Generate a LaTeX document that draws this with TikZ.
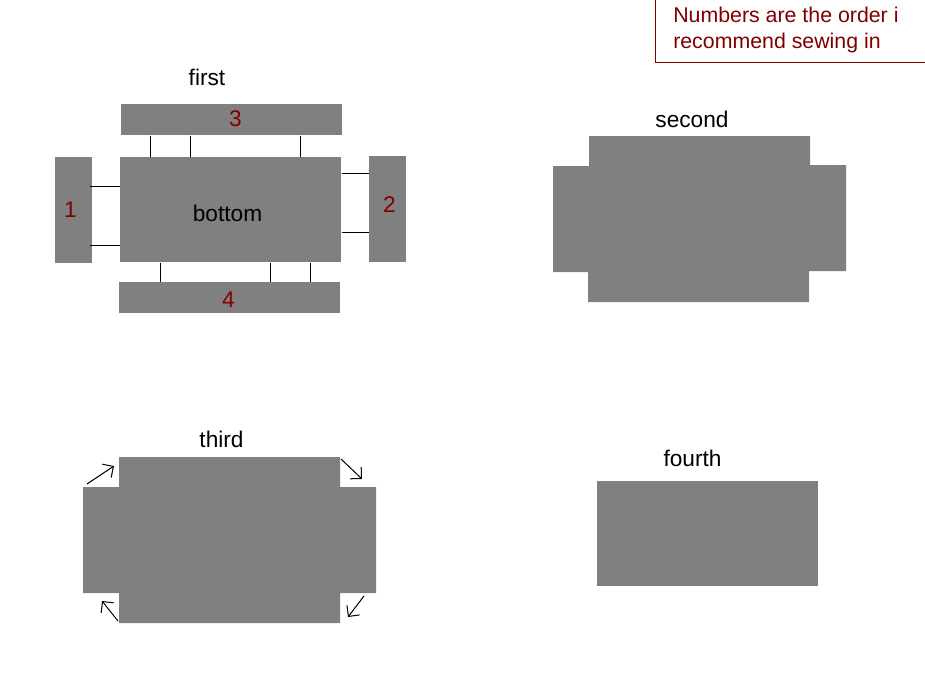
\documentclass[tikz,border=0pt]{standalone}
\usepackage{fontspec}
\setmainfont{Liberation Sans}
\usetikzlibrary{positioning,arrows.meta}
\definecolor{clothgray}{RGB}{128,128,128}
\definecolor{seamred}{RGB}{128,0,0}

\begin{document}
\begin{tikzpicture}[x=0.75pt,y=-0.75pt,
  piece/.style 2 args={rectangle,fill=clothgray,inner sep=0pt,anchor=north west,
        minimum width=#1*0.75pt,minimum height=#2*0.75pt},
  lbl/.style={anchor=base,inner sep=0pt,font=\fontsize{17}{20}\selectfont},
  num/.style={lbl,text=seamred},
  note/.style={anchor=base west,inner sep=0pt,text=seamred,font=\fontsize{16}{19.5}\selectfont},
  seam/.style={line width=0.75pt},
  turn/.style={line width=0.75pt,-{Straight Barb[length=6pt,width=12pt]}}]
\useasboundingbox (0,0) rectangle (925,682);

\draw[seamred,line width=0.75pt] (655,0) -- (655,62) -- (925,62);
\node[note] (note1) at (673,22) {Numbers are the order i};
\node[note] (note2) at (673,48) {recommend sewing in};

\node[piece={221}{105}] (bottom) at (120,157) {};
\node[piece={221}{31}] (p3) at (121,104) {};
\node[piece={221}{31}] (p4) at (119,282) {};
\node[piece={37}{106}] (p1) at (55,157) {};
\node[piece={37}{106}] (p2) at (369,156) {};
\foreach \sx in {150,190,300}
  \draw[seam] (p3.south -| \sx,0) -- (bottom.north -| \sx,0);
\foreach \sx in {160,270,310}
  \draw[seam] (bottom.south -| \sx,0) -- (p4.north -| \sx,0);
\foreach \sy in {186,245}
  \draw[seam] (p1.east |- 0,\sy) ++(-3,0) -- (bottom.west |- 0,\sy);
\foreach \sy in {173,232}
  \draw[seam] (bottom.east |- 0,\sy) -- (p2.west |- 0,\sy);
\node[lbl] (first) at (207,85) {first};
\node[lbl] (btm) at (227.5,221) {bottom};
\node[num] (n1) at (70.5,217) {1};
\node[num] (n2) at (389.5,212) {2};
\node[num] (n3) at (235.5,126) {3};
\node[num] (n4) at (228.5,307) {4};

\fill[clothgray] (589,136) -- (810,136) -- (810,165) -- (846,165) -- (846,271)
  -- (809,271) -- (809,302) -- (588,302) -- (588,272) -- (553,272)
  -- (553,166) -- (589,166) -- cycle;
\node[lbl] (second) at (692,127) {second};

\fill[clothgray] (119,457) -- (340,457) -- (340,487) -- (376,487) -- (376,593)
  -- (340,593) -- (340,623) -- (119,623) -- (119,593) -- (83,593)
  -- (83,487) -- (119,487) -- cycle;
\node[lbl] (third) at (221.5,447) {third};
\coordinate (tl0) at (87,484);  \coordinate (tl1) at (114,466);
\coordinate (tr0) at (341,459); \coordinate (tr1) at (362,479);
\coordinate (bl0) at (118,621); \coordinate (bl1) at (102,601);
\coordinate (br0) at (364,596); \coordinate (br1) at (348,617);
\foreach \c in {tl,tr,bl,br}
  \draw[turn] (\c0) -- (\c1);

\node[piece={221}{105}] (fourthpc) at (597,481) {};
\node[lbl] (fourth) at (692.5,466) {fourth};
\end{tikzpicture}
\end{document}
